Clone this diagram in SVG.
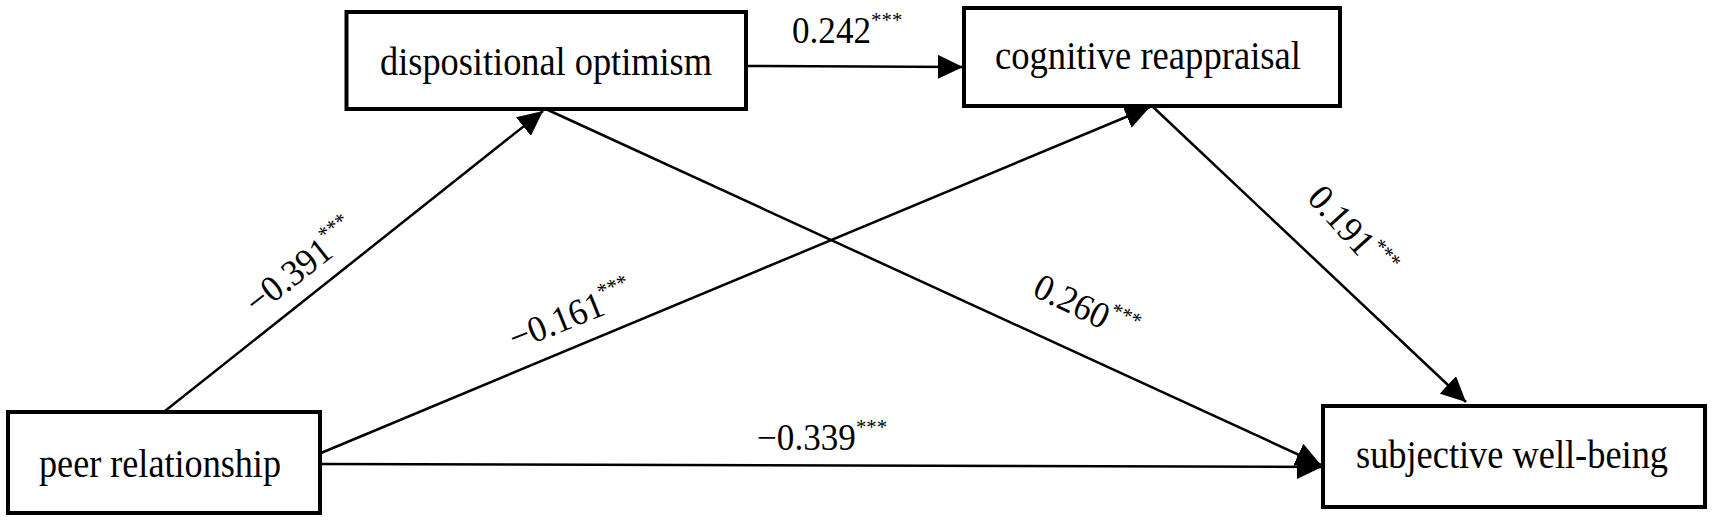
<svg xmlns="http://www.w3.org/2000/svg" width="1712" height="523" viewBox="0 0 1712 523">
<style>
.box{fill:#fff;stroke:#000;stroke-width:4}
.node{font-family:"Liberation Serif","Times New Roman",serif;font-size:39px;fill:#000;text-anchor:middle}
.edge{stroke:#000;stroke-width:2.5;fill:none;marker-end:url(#arr)}
.lab{font-family:"Liberation Serif","Times New Roman",serif;font-size:37px;fill:#000}
.sup{font-size:22px}
</style>
<defs>
<marker id="arr" markerUnits="userSpaceOnUse" markerWidth="26" markerHeight="24" refX="25" refY="12" orient="auto">
<path d="M0,0 L25,12 L0,24 z" fill="#000"/>
</marker>
</defs>
<rect width="1712" height="523" fill="#fff"/>
<g id="connectors">
<line class="edge" x1="165" y1="411" x2="543" y2="111"/>
<line class="edge" x1="321" y1="453" x2="1150" y2="107"/>
<line class="edge" x1="548" y1="110" x2="1321" y2="465"/>
<line class="edge" x1="1152" y1="106" x2="1466" y2="402"/>
<line class="edge" x1="322" y1="464" x2="1322" y2="467"/>
<line class="edge" x1="746" y1="66" x2="963" y2="67"/>
</g>
<g id="labels">
<text class="lab" transform="translate(792,43) scale(0.95,1)">0.242<tspan class="sup" dy="-16">***</tspan></text>
<text class="lab" transform="translate(757,450) scale(0.95,1)">−0.339<tspan class="sup" dy="-16">***</tspan></text>
<text class="lab" transform="translate(257,316) rotate(-38) scale(0.95,1)">−0.391<tspan class="sup" dy="-16">***</tspan></text>
<text class="lab" transform="translate(515,351) rotate(-22) scale(0.95,1)">−0.161<tspan class="sup" dy="-16">***</tspan></text>
<text class="lab" transform="translate(1031,295) rotate(26) scale(0.95,1)">0.260<tspan class="sup" dy="-16">***</tspan></text>
<text class="lab" transform="translate(1306,199) rotate(48) scale(0.95,1)">0.191<tspan class="sup" dy="-16">***</tspan></text>
</g>
<g id="node-dispositional-optimism">
<rect class="box" x="346.5" y="12" width="399.5" height="97"/>
<text class="node" x="546" y="75" textLength="332" lengthAdjust="spacingAndGlyphs">dispositional optimism</text>
</g>
<g id="node-cognitive-reappraisal">
<rect class="box" x="964" y="8" width="376" height="98"/>
<text class="node" x="1148" y="69" textLength="306" lengthAdjust="spacingAndGlyphs">cognitive reappraisal</text>
</g>
<g id="node-peer-relationship">
<rect class="box" x="8" y="412" width="312" height="101"/>
<text class="node" x="160" y="477" textLength="242" lengthAdjust="spacingAndGlyphs">peer relationship</text>
</g>
<g id="node-subjective-well-being">
<rect class="box" x="1323" y="406" width="382" height="101"/>
<text class="node" x="1512" y="468" textLength="312" lengthAdjust="spacingAndGlyphs">subjective well-being</text>
</g>
</svg>
